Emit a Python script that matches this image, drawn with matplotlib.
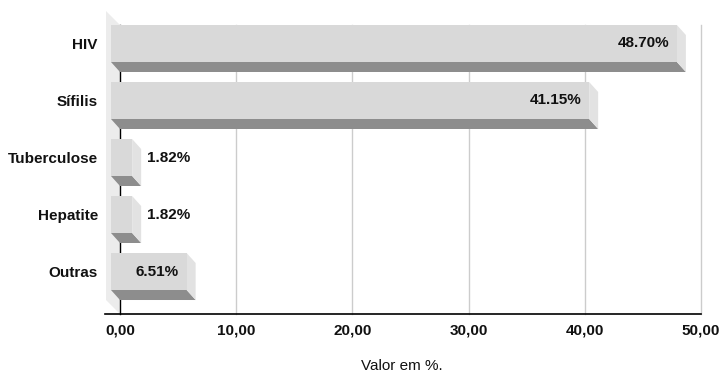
import matplotlib
matplotlib.use("Agg")
import matplotlib.pyplot as plt
from matplotlib.patches import Polygon
import numpy as np

plt.rcParams['font.family'] = ['Liberation Sans', 'DejaVu Sans']

categories = ["HIV", "Sífilis", "Tuberculose", "Hepatite", "Outras"]
values = [48.70, 41.15, 1.82, 1.82, 6.51]
xticks = [0, 10, 20, 30, 40, 50]

FRONT = "#d9d9d9"
SIDE = "#e2e2e2"
BOTTOM = "#8d8d8d"
WALL = "#ececec"
INK = "#111111"

fig = plt.figure(figsize=(7.21, 3.76), dpi=100)
ax = fig.add_axes([120 / 721, 62 / 376, 581 / 721, 289 / 376])
ax.set_xlim(0, 50)
y_top, y_bot = -0.412, 4.658
ax.set_ylim(y_bot, y_top)

px = 50 / 581          # data units per pixel along x
dx = 9 * px            # 3d depth in x
dy = 10 / 57           # 3d depth in y (category units)
face_top, face_bot = -0.412, 0.237

# side wall behind the bars
wall = Polygon([(-14 * px, y_top - 14 / 57), (0, y_top), (0, y_bot), (-14 * px, y_bot - 14 / 57)],
               closed=True, facecolor=WALL, edgecolor="none", clip_on=False, zorder=0)
ax.add_patch(wall)

# grid lines on the back plane
for t in xticks[1:]:
    ax.plot([t, t], [y_top, y_bot], color="#cccccc", lw=1, zorder=1, clip_on=False)
ax.plot([0, 0], [y_top, y_bot], color="black", lw=1, zorder=1, clip_on=False)

for i, v in enumerate(values):
    t, b = i + face_top, i + face_bot
    # bottom face
    ax.add_patch(Polygon([(-dx, b), (v - dx, b), (v, b + dy), (0, b + dy)],
                         closed=True, facecolor=BOTTOM, edgecolor="none", zorder=2, clip_on=False))
    # right side face
    ax.add_patch(Polygon([(v - dx, t), (v, t + dy), (v, b + dy), (v - dx, b)],
                         closed=True, facecolor=SIDE, edgecolor="none", zorder=2, clip_on=False))
    # front face
    ax.add_patch(Polygon([(-dx, t), (v - dx, t), (v - dx, b), (-dx, b)],
                         closed=True, facecolor=FRONT, edgecolor="none", zorder=3, clip_on=False))
    label = f"{v:.2f}%"
    yc = (t + b) / 2
    if v > 5:
        ax.text(v - dx - 8 * px, yc, label, ha="right", va="center",
                fontsize=11, fontweight="bold", color=INK, zorder=4)
    else:
        ax.text(v + 6 * px, yc, label, ha="left", va="center",
                fontsize=11, fontweight="bold", color=INK, zorder=4)

# x axis line
ax.plot([-15 * px, 50], [y_bot, y_bot], color="black", lw=1.2, clip_on=False, zorder=5)

for s in ax.spines.values():
    s.set_visible(False)

ax.set_xticks(xticks)
ax.set_xticklabels([f"{t:.2f}".replace(".", ",") for t in xticks])
ax.set_yticks(np.arange(len(categories)) + (face_top + face_bot) / 2)
ax.set_yticklabels(categories)
ax.tick_params(axis="x", length=0, pad=7, labelsize=11)
ax.tick_params(axis="y", length=0, pad=16, labelsize=11)
for lab in ax.get_xticklabels() + ax.get_yticklabels():
    lab.set_fontweight("bold")
    lab.set_color(INK)

fig.text(402 / 721, 1 - 366 / 376, "Valor em %.", ha="center", va="center",
         fontsize=11, color=INK)

fig.savefig("out.png", dpi=100)
